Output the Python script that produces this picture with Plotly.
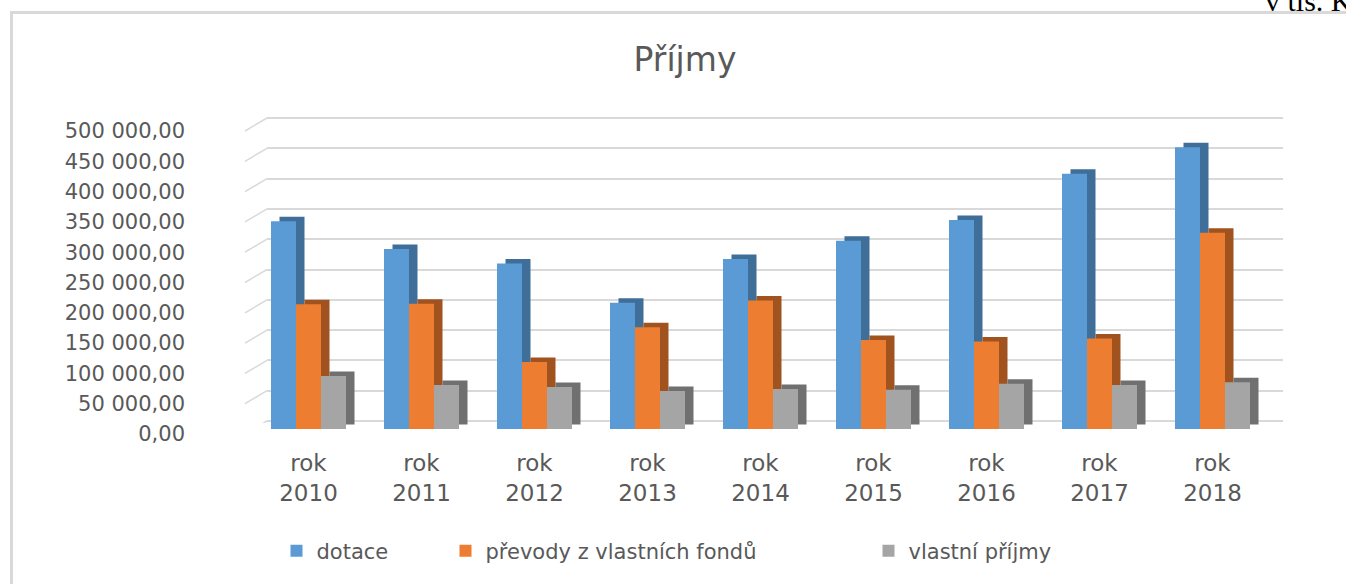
import plotly.graph_objects as go

# ---- data ----
categories = ["rok 2010", "rok 2011", "rok 2012", "rok 2013", "rok 2014",
              "rok 2015", "rok 2016", "rok 2017", "rok 2018"]
dotace = [343000, 297000, 273000, 208500, 280500, 310500, 345000, 421000, 465000]
prevody = [205700, 206500, 110500, 167700, 212000, 147000, 144500, 149500, 324000]
vlastni = [87500, 72500, 69300, 62700, 66000, 64800, 74700, 72500, 77000]
series_names = ["dotace", "převody z vlastních fondů", "vlastní příjmy"]
y_ticks = [0, 50000, 100000, 150000, 200000, 250000, 300000, 350000, 400000, 450000, 500000]
y_ticktext = ["0,00", "50 000,00", "100 000,00", "150 000,00", "200 000,00",
              "250 000,00", "300 000,00", "350 000,00", "400 000,00", "450 000,00",
              "500 000,00"]
x_ticktext = [c.replace(" ", "<br>") for c in categories]

# ---- styling ----
W, H = 1346, 584
FONT = "DejaVu Sans"
TXT = "#595959"
GRID = "#D9D9D9"
front_colors = ["#5B9BD5", "#ED7D31", "#A5A5A5"]
side_colors = ["#3F6E98", "#A0531E", "#707070"]
legend_px = [298.5, 467.5, 890.5]   # legend square centres (px)


def fx(px):
    return px / W


def fy(py):
    return 1 - py / H


YMAX = 500000
front_px = (252, 1269)           # front plane x extent
front_py = (429, 126)            # y of 0 and 500k on front plane
cat_w = (front_px[1] - front_px[0]) / len(categories)
px_per_val = (front_py[0] - front_py[1]) / YMAX
shift_x = 8.5 / cat_w            # side depth in category units
shift_y = 4.5 / px_per_val       # side depth in value units
pad_val = 2 / px_per_val         # small padding so edge gridlines render

bar_w = 25 / cat_w
offsets = [-1.5 * bar_w, -0.5 * bar_w, 0.5 * bar_w]

fig = go.Figure()
values = [dotace, prevody, vlastni]
legend_ids = ["legend", "legend2", "legend3"]

# depth faces (behind)
for vals, col, off in zip(values, side_colors, offsets):
    fig.add_trace(go.Bar(x=categories, y=vals, xaxis="x2", yaxis="y2",
                         marker=dict(color=col, line=dict(width=0)),
                         width=bar_w, offset=off, showlegend=False,
                         hoverinfo="skip"))
# front faces
for vals, col, off, name, lg in zip(values, front_colors, offsets, series_names, legend_ids):
    fig.add_trace(go.Bar(x=categories, y=vals, xaxis="x3", yaxis="y3", name=name,
                         marker=dict(color=col, line=dict(width=0)),
                         width=bar_w, offset=off, legend=lg))

shapes = []
# chart frame
shapes.append(dict(type="rect", xref="paper", yref="paper",
                   x0=fx(11.5), x1=1.2, y0=-0.2, y1=fy(12.5),
                   line=dict(color="#D9D9D9", width=3), fillcolor="rgba(0,0,0,0)",
                   layer="below"))
# side-wall diagonal gridlines
for v in y_ticks:
    shapes.append(dict(type="line", xref="paper", yref="y", ysizemode="pixel",
                       yanchor=v, x0=fx(245), x1=fx(267), y0=-13, y1=0,
                       line=dict(color=GRID, width=1.5), layer="below"))

legend_common = dict(orientation="h", yanchor="middle", xanchor="left",
                     font=dict(family=FONT, size=21, color=TXT),
                     bgcolor="rgba(0,0,0,0)", borderwidth=0, y=fy(551))

back_py = (421, 118)

fig.update_layout(
    width=W, height=H,
    autosize=False,
    margin=dict(l=0, r=0, t=0, b=0, pad=0, autoexpand=False),
    paper_bgcolor="white",
    plot_bgcolor="rgba(0,0,0,0)",
    barmode="overlay",
    font=dict(family=FONT, color=TXT),
    title=dict(text="Příjmy", x=fx(685), y=fy(59), xanchor="center", yanchor="middle",
               font=dict(family=FONT, size=33, color=TXT)),
    # back wall grid
    xaxis=dict(domain=[fx(267), fx(1283)], range=[0, 1], visible=False, automargin=False),
    yaxis=dict(domain=[fy(back_py[0] + 2), fy(back_py[1] - 2)],
               range=[-pad_val, YMAX + pad_val], tickvals=y_ticks,
               showticklabels=False, showgrid=True, gridcolor=GRID, gridwidth=1.5,
               zeroline=False, showline=False, ticks="", automargin=False),
    # depth faces
    xaxis2=dict(domain=[fx(front_px[0]), fx(front_px[1])], anchor="y2", type="category",
                range=[-0.5 - shift_x, len(categories) - 0.5 - shift_x], visible=False,
                automargin=False),
    yaxis2=dict(domain=[fy(front_py[0]), fy(front_py[1])], anchor="x2",
                range=[-shift_y, YMAX - shift_y], visible=False, automargin=False),
    # front faces with labels
    xaxis3=dict(overlaying="x2", anchor="y3", type="category",
                range=[-0.5, len(categories) - 0.5],
                tickvals=categories, ticktext=x_ticktext, showgrid=False,
                zeroline=False, showline=False, ticks="", ticklabelstandoff=18,
                tickfont=dict(family=FONT, size=23, color=TXT), automargin=False),
    yaxis3=dict(overlaying="y2", anchor="x3", side="left", range=[0, YMAX],
                tickvals=y_ticks, ticktext=y_ticktext, showgrid=False, zeroline=False,
                showline=False, ticks="", ticklabelstandoff=66, ticklabelshift=5,
                tickfont=dict(family=FONT, size=21, color=TXT), automargin=False),
    legend=dict(x=fx(legend_px[0] - 22), **legend_common),
    legend2=dict(x=fx(legend_px[1] - 22), **legend_common),
    legend3=dict(x=fx(legend_px[2] - 22), **legend_common),
    shapes=shapes,
    annotations=[dict(text="v tis. Kč", xref="paper", yref="paper", x=fx(1263),
                      y=fy(0), xanchor="left", yanchor="middle", showarrow=False,
                      font=dict(family="Liberation Serif", size=30, color="black"))],
)

fig.write_html("out.html", config={"displayModeBar": False},
               post_script="document.body.style.margin='0';document.body.style.overflow='hidden';")
